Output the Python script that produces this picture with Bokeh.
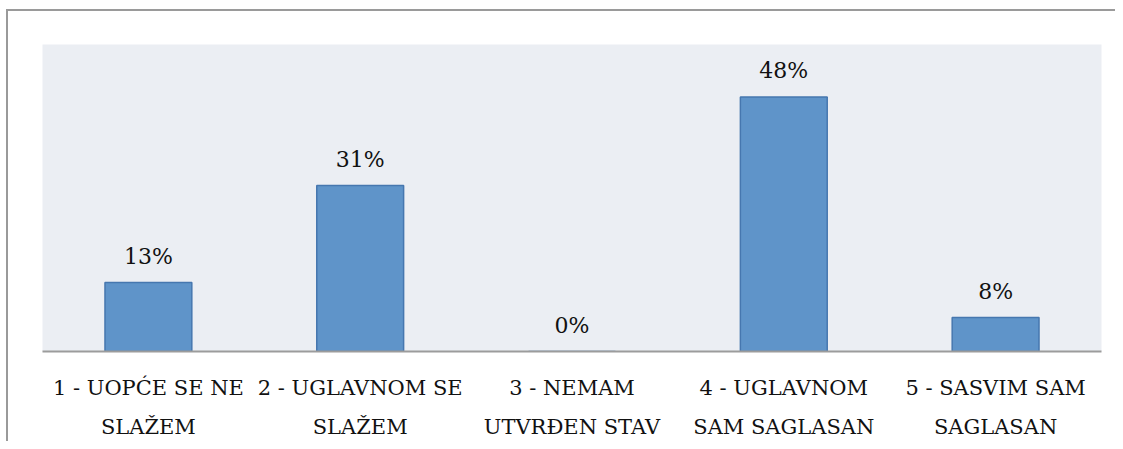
from bokeh.plotting import figure
from bokeh.models import ColumnDataSource, Range1d, LinearAxis, FixedTicker
from bokeh.core.properties import value
from bokeh.embed import file_html
from bokeh.resources import INLINE

# ---- data ----
categories = [
    "1 - UOPĆE SE NE SLAŽEM",
    "2 - UGLAVNOM SE SLAŽEM",
    "3 - NEMAM UTVRĐEN STAV",
    "4 - UGLAVNOM SAM SAGLASAN",
    "5 - SASVIM SAM SAGLASAN",
]
line1 = ["1 - UOPĆE SE NE", "2 - UGLAVNOM SE", "3 - NEMAM", "4 - UGLAVNOM", "5 - SASVIM SAM"]
line2 = ["SLAŽEM", "SLAŽEM", "UTVRĐEN STAV", "SAM SAGLASAN", "SAGLASAN"]
values = [13, 31.3, 0, 48, 6.4]          # bar heights (%)
value_labels = ["13%", "31%", "0%", "48%", "8%"]

FONT = "DejaVu Serif"

pos = list(range(1, len(categories) + 1))
src = ColumnDataSource(dict(x=pos, cat=categories, val=values, lab=value_labels))

p = figure(
    x_range=Range1d(0.5, len(categories) + 0.5),
    y_range=Range1d(0, 57.9),
    width=1115, height=441,
    output_backend="svg", toolbar_location=None,
    min_border_left=42, min_border_right=14, min_border_top=44, min_border_bottom=88,
    background_fill_color="#EBEEF3", border_fill_color=None,
)
# chart border (top and left edges visible in the reference)
p.styles = {"box-shadow": "inset 6px 9px 0 0 #ffffff, inset 8px 11px 0 0 #9a9a9a",
            "background-color": "#ffffff"}
p.outline_line_color = None
p.grid.visible = False
p.yaxis.visible = False

p.vbar(x="x", top="val", width=0.41, source=src,
       fill_color="#5F94C9", line_color="#4677AF", line_width=1.5)

p.text(x="x", y="val", text="lab", source=src, y_offset=-26,
       text_align="center", text_baseline="alphabetic",
       text_font=value(FONT), text_font_size=value("22px"), text_color="#111111")

ax = p.xaxis[0]
ax.ticker = FixedTicker(ticks=pos)
ax.major_label_overrides = {i: t for i, t in zip(pos, line1)}
ax.axis_line_color = "#9c9c9c"
ax.axis_line_width = 2
ax.major_tick_line_color = None
ax.minor_tick_line_color = None
ax.major_tick_in = 0
ax.major_tick_out = 0
ax.minor_tick_in = 0
ax.minor_tick_out = 0
ax.major_label_standoff = 24
ax.major_label_text_font = FONT
ax.major_label_text_font_size = "21px"
ax.major_label_text_color = "#111111"

ax2 = LinearAxis(
    ticker=FixedTicker(ticks=pos),
    major_label_overrides={i: t for i, t in zip(pos, line2)},
    axis_line_color=None, major_tick_line_color=None, minor_tick_line_color=None,
    major_tick_in=0, major_tick_out=0, minor_tick_in=0, minor_tick_out=0,
    major_label_standoff=12,
    major_label_text_font=FONT, major_label_text_font_size="21px",
    major_label_text_color="#111111",
)
p.add_layout(ax2, "below")

open("out.html", "w").write(file_html(p, INLINE))
